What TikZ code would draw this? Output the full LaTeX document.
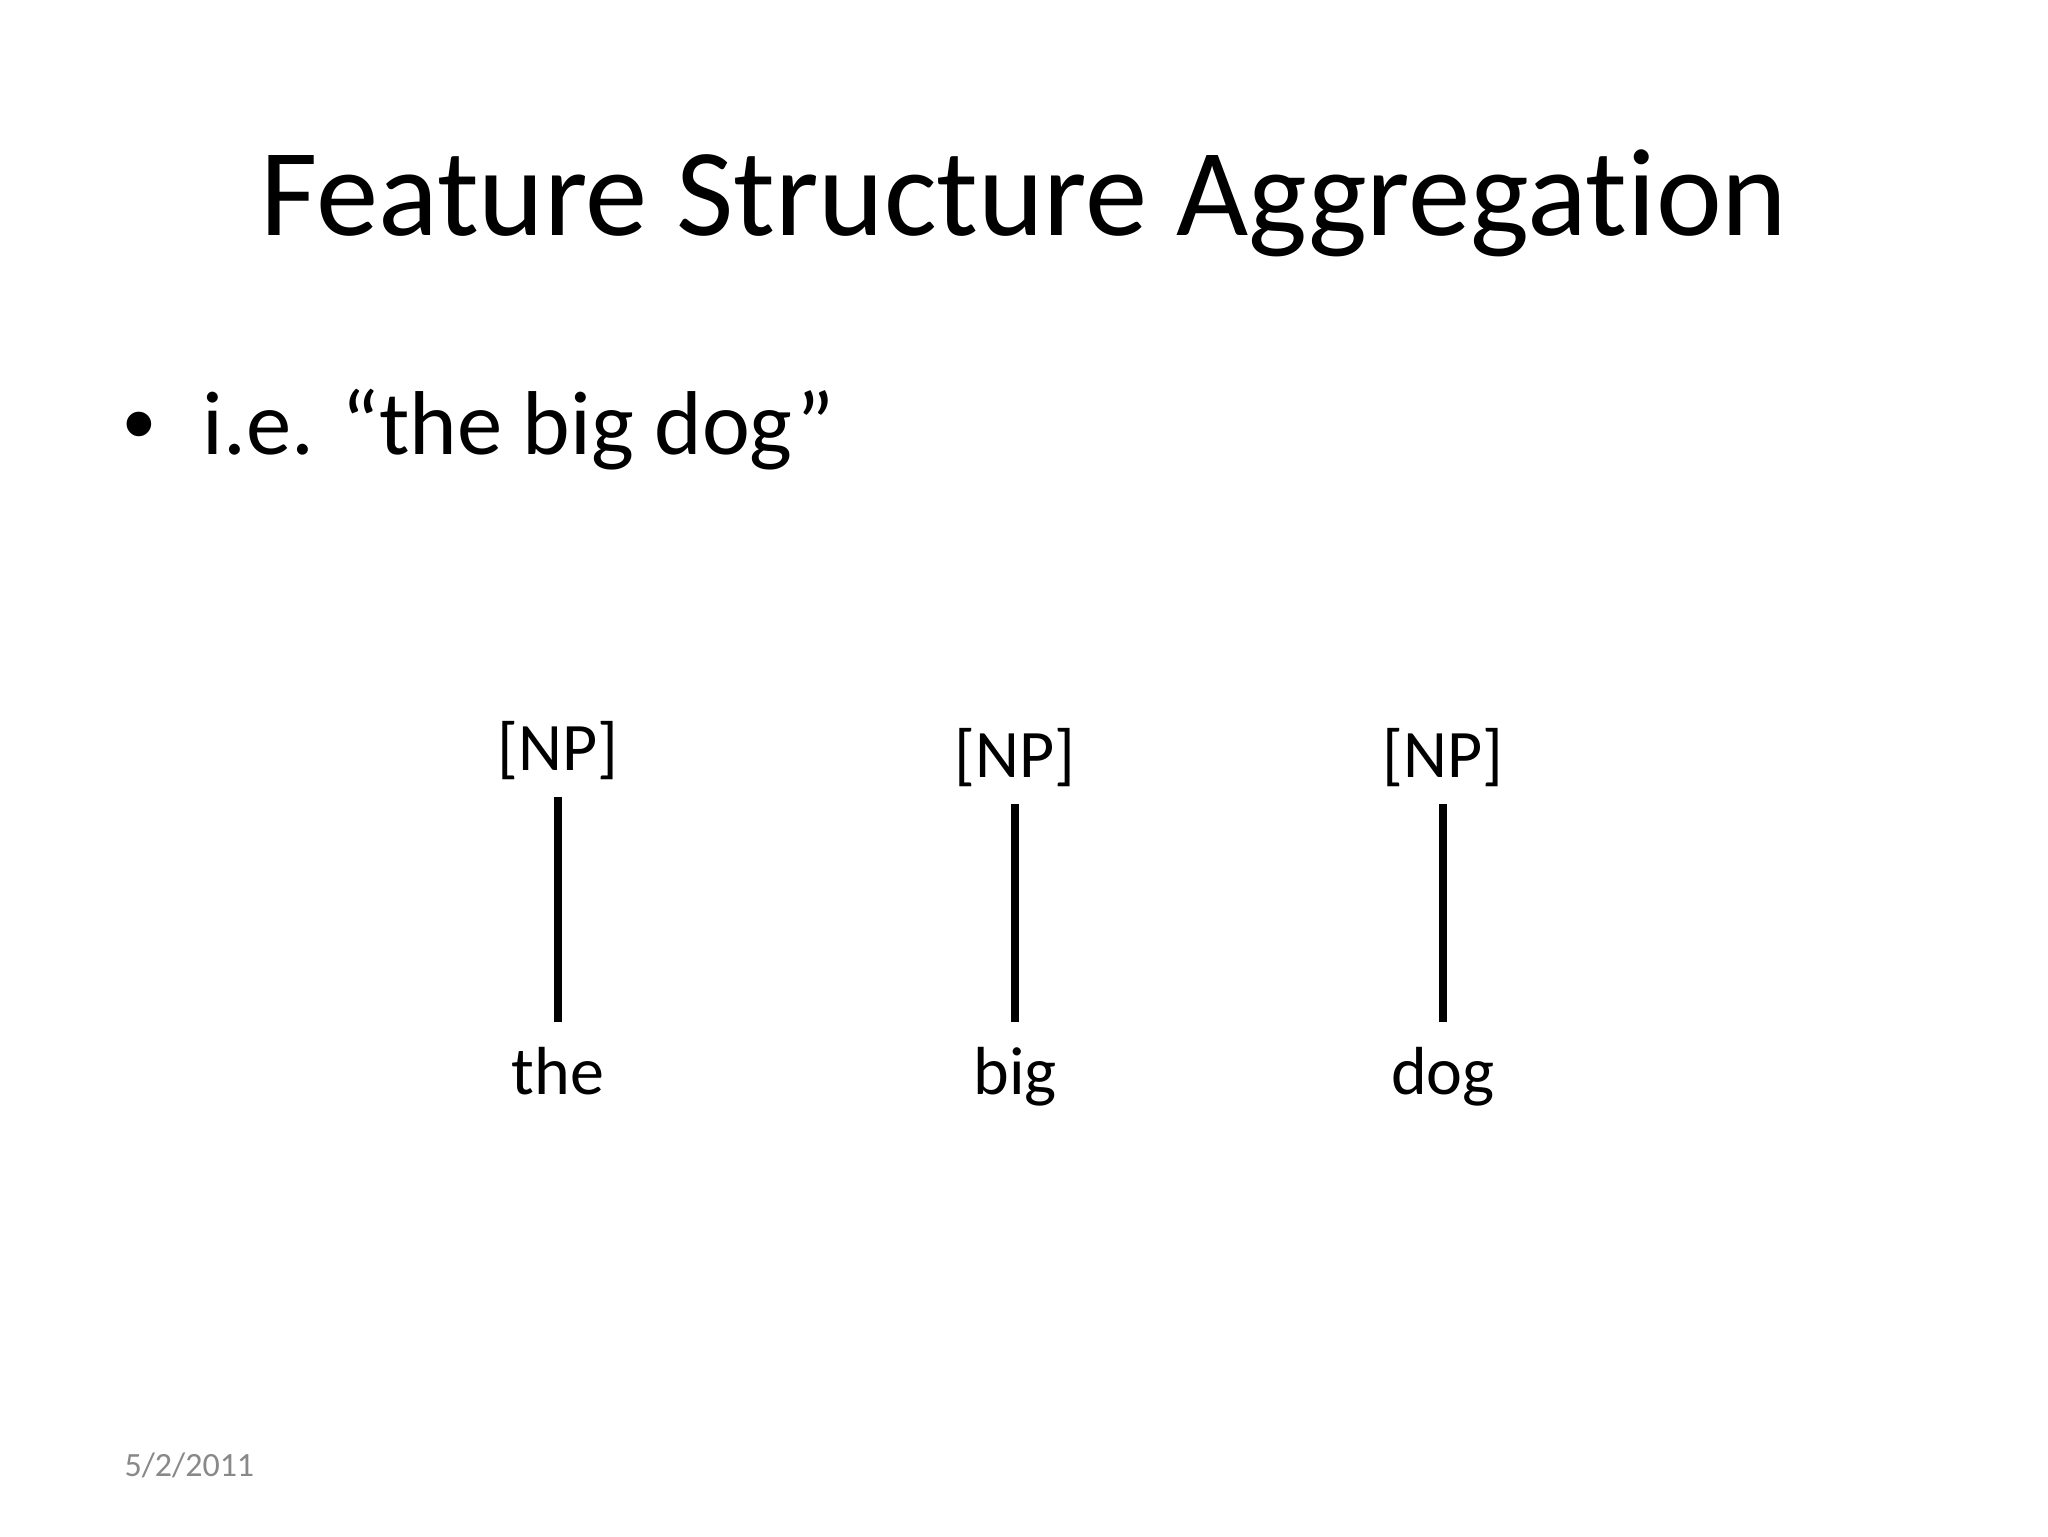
\documentclass[tikz,border=0pt]{standalone}
\usepackage{fontspec}
\setmainfont[RawFeature={-liga;-dlig}]{Carlito}
\newfontfamily\bulletfont{Liberation Sans}
\definecolor{dategray}{HTML}{898989}
\tikzset{word/.style={anchor=base, font=\fontsize{24}{28}\selectfont},
  stem/.style={line width=2.6pt, shorten <=0.9mm, shorten >=1.8mm}}

\begin{document}
\begin{tikzpicture}[x=0.0124023cm, y=-0.0124023cm]
  \fill[white] (0,0) rectangle (2048,1536);
  \useasboundingbox (0,0) rectangle (2048,1536);
  \node (title) [anchor=base, font=\fontsize{44}{52}\selectfont] at (1024,235) {Feature Structure Aggregation};
  \node (dot) [anchor=base, font=\bulletfont\fontsize{32}{38}\selectfont] at (139,454) {•};
  \node (ie) [anchor=base west, inner sep=0pt, font=\fontsize{32}{38}\selectfont] at (202,454) {i.e. “the big dog”};

  \node (N1) [word] at (558,770) {[NP]};
  \node (N2) [word] at (1015,777) {[NP]};
  \node (N3) [word] at (1443,777) {[NP]};
  \node (the) [word] at (558,1094) {the};
  \node (big) [word] at (1015,1094) {big};
  \node (dog) [word] at (1443,1094) {dog};

  \draw[stem] (N1.south) -- (the.north);
  \draw[stem] (N2.south) -- (big.north);
  \draw[stem] (N3.south) -- (dog.north);

  \node (date) [anchor=base west, inner sep=0pt, text=dategray, font=\fontsize{12}{14}\selectfont] at (124,1476) {5/2/2011};
\end{tikzpicture}
\end{document}
